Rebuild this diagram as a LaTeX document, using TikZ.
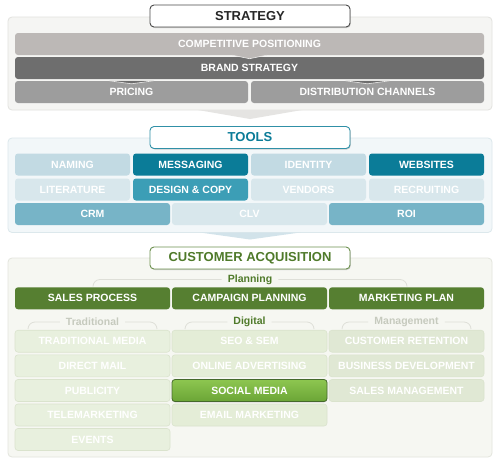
\documentclass[tikz,border=0pt]{standalone}
\usepackage{fontspec}
\setmainfont{Liberation Sans}
\usepackage{tikz}
\usetikzlibrary{shadows}
\usepackage{xcolor}
\definecolor{panelbg}{HTML}{F5F5F3}
\definecolor{panelline}{HTML}{E2E2DF}
\definecolor{titlegray}{HTML}{4A4A4A}
\definecolor{cpgray}{HTML}{BCB8B6}
\definecolor{bsgray}{HTML}{6E6E6E}
\definecolor{prgray}{HTML}{9D9D9D}
\definecolor{arrowgray}{HTML}{E5E4E2}
\definecolor{toolbg}{HTML}{F2F7F9}
\definecolor{toolline}{HTML}{DCE8EC}
\definecolor{tealdark}{HTML}{0B7C98}
\definecolor{tealmid}{HTML}{3C9EB6}
\definecolor{tealsoft}{HTML}{77B4C7}
\definecolor{teallight}{HTML}{C2DAE3}
\definecolor{tealpale}{HTML}{D8E7EC}
\definecolor{arrowteal}{HTML}{D2E3EA}
\definecolor{cabg}{HTML}{F6F7F2}
\definecolor{caline}{HTML}{E3E5DD}
\definecolor{greendark}{HTML}{567F31}
\definecolor{greentitle}{HTML}{4F7A2A}
\definecolor{greenline}{HTML}{6E9150}
\definecolor{greenpaleA}{HTML}{E8F0DE}
\definecolor{greenpaleB}{HTML}{E4EDD7}
\definecolor{greenpaleC}{HTML}{E0E8D4}
\definecolor{greenedge}{HTML}{DAE3CD}
\definecolor{socialtop}{HTML}{8DC650}
\definecolor{socialbot}{HTML}{6BA536}
\definecolor{socialedge}{HTML}{44692A}
\definecolor{labgray}{HTML}{C6CABE}
\definecolor{bracketgray}{HTML}{DEDFD8}
\newcommand\cellfont{\fontsize{10.5}{12}\selectfont\bfseries}
\newcommand\boxtitlefont{\fontsize{13}{15}\selectfont\bfseries}
\tikzset{%
    panel/.style={rounded corners=4pt, line width=0.8pt},
    boxtitle/.style={%
        rounded corners=4pt, fill=white, line width=0.9pt,
        minimum width=200pt, minimum height=22pt, inner sep=0pt,
        font=\boxtitlefont,
        drop shadow={shadow xshift=0.8pt, shadow yshift=-1pt, opacity=0.35}
    },
    cell/.style={%
        rounded corners=3pt, minimum height=22pt, inner sep=0pt,
        text=white, font=\cellfont
    },
    quarter/.style={cell, minimum width=115pt},
    third/.style={cell, minimum width=155pt},
    half/.style={cell, minimum width=233pt},
    full/.style={cell, minimum width=469pt},
    pale/.style={third, draw=greenedge, line width=0.6pt},
    notch/.style={draw=white!70!cpgray, line width=0.6pt},
    grouplabel/.style={font=\cellfont, inner xsep=6pt, inner ysep=0pt},
    bracket/.style={draw=bracketgray, line width=0.8pt, rounded corners=7pt}
}
\begin{document}
\begin{tikzpicture}[x=1pt,y=-1pt]
    \useasboundingbox[fill=white] (0,0) rectangle (500,466);

    % strategy
    \draw[panel, fill=panelbg, draw=panelline] (8,17) rectangle (492,110);
    \fill[arrowgray] (198,110) -- (302,110) -- (250,119) -- cycle;
    \node[boxtitle, draw=titlegray, text=black!85] (strategy) at (250,16) {STRATEGY};
    \node[full, fill=cpgray] (comp) at (249.5,44) {COMPETITIVE POSITIONING};
    \node[full, fill=bsgray] (brand) at (249.5,68) {BRAND STRATEGY};
    \node[half, fill=prgray] (pricing) at (131.5,92) {PRICING};
    \node[half, fill=prgray] (distrib) at (367.5,92) {DISTRIBUTION CHANNELS};
    \path[notch, fill=cpgray] ([xshift=-17pt]comp.south) -- ++(17,3.5) -- ++(17,-3.5);
    \path[notch, fill=bsgray] ([xshift=-22pt]pricing.north) -- ++(22,3) -- ++(22,-3);
    \path[notch, fill=bsgray] ([xshift=-22pt]distrib.north) -- ++(22,3) -- ++(22,-3);

    % tools
    \draw[panel, fill=toolbg, draw=toolline] (8,138) rectangle (492,232.5);
    \fill[arrowteal] (200,232.5) -- (300,232.5) -- (250,239.5) -- cycle;
    \node[boxtitle, draw=tealdark!85, text=tealdark] (tools) at (250,137.5) {TOOLS};
    \node[quarter, fill=teallight] (naming) at (72.5,164.5) {NAMING};
    \node[quarter, fill=tealdark] (messaging) at (190.5,164.5) {MESSAGING};
    \node[quarter, fill=teallight] (identity) at (308.5,164.5) {IDENTITY};
    \node[quarter, fill=tealdark] (websites) at (426.5,164.5) {WEBSITES};
    \node[quarter, fill=tealpale] (literature) at (72.5,189.5) {LITERATURE};
    \node[quarter, fill=tealmid] (design) at (190.5,189.5) {DESIGN \& COPY};
    \node[quarter, fill=tealpale] (vendors) at (308.5,189.5) {VENDORS};
    \node[quarter, fill=tealpale] (recruiting) at (426.5,189.5) {RECRUITING};
    \node[third, fill=tealsoft] (crm) at (92.5,214) {CRM};
    \node[third, fill=tealpale] (clv) at (249.5,214) {CLV};
    \node[third, fill=tealsoft] (roi) at (406.5,214) {ROI};

    % customer acquisition
    \draw[panel, fill=cabg, draw=caline] (8,258) rectangle (492,457);
    \node[boxtitle, draw=greenline, text=greentitle] (acquisition) at (250,258) {CUSTOMER ACQUISITION};

    \node[grouplabel, text=greentitle] (planning) at (250,279.5) {Planning};
    \coordinate (planL) at (93,286);
    \coordinate (planR) at (407,286);
    \draw[bracket] (planL) |- (planning.west);
    \draw[bracket] (planR) |- (planning.east);
    \node[third, fill=greendark] (sales) at (92.5,298.3) {SALES PROCESS};
    \node[third, fill=greendark] (campaign) at (249.5,298.3) {CAMPAIGN PLANNING};
    \node[third, fill=greendark] (mktplan) at (406.5,298.3) {MARKETING PLAN};

    \node[grouplabel, text=labgray] (traditional) at (92.5,322) {Traditional};
    \node[grouplabel, text=greentitle] (digital) at (249.5,322) {Digital};
    \node[grouplabel, text=labgray] (management) at (406.5,322) {Management};
    \coordinate (tradL) at (28,329);
    \coordinate (tradR) at (157,329);
    \coordinate (digL) at (185,329);
    \coordinate (digR) at (314,329);
    \coordinate (mgmtL) at (342,329);
    \coordinate (mgmtR) at (471,329);
    \draw[bracket] (tradL) |- (traditional.west);
    \draw[bracket] (tradR) |- (traditional.east);
    \draw[bracket] (digL) |- (digital.west);
    \draw[bracket] (digR) |- (digital.east);
    \draw[bracket] (mgmtL) |- (management.west);
    \draw[bracket] (mgmtR) |- (management.east);

    \node[pale, fill=greenpaleA] (tradmedia) at (92.5,341.2) {TRADITIONAL MEDIA};
    \node[pale, fill=greenpaleA] (directmail) at (92.5,365.8) {DIRECT MAIL};
    \node[pale, fill=greenpaleA] (publicity) at (92.5,390.5) {PUBLICITY};
    \node[pale, fill=greenpaleA] (telemkt) at (92.5,415) {TELEMARKETING};
    \node[pale, fill=greenpaleA] (events) at (92.5,439.5) {EVENTS};

    \node[pale, fill=greenpaleB] (seo) at (249.5,341.2) {SEO \& SEM};
    \node[pale, fill=greenpaleB] (onlinead) at (249.5,365.8) {ONLINE ADVERTISING};
    \node[pale, fill=greenpaleB] (email) at (249.5,415) {EMAIL MARKETING};
    \node[third, draw=socialedge, line width=0.8pt, top color=socialtop, bottom color=socialbot,
        drop shadow={shadow xshift=0pt, shadow yshift=-0.8pt, opacity=0.45}]
        (social) at (249.5,390.5) {SOCIAL MEDIA};

    \node[pale, fill=greenpaleC] (retention) at (406.5,341.2) {CUSTOMER RETENTION};
    \node[pale, fill=greenpaleC] (bizdev) at (406.5,365.8) {BUSINESS DEVELOPMENT};
    \node[pale, fill=greenpaleC] (salesmgmt) at (406.5,390.5) {SALES MANAGEMENT};
\end{tikzpicture}
\end{document}
